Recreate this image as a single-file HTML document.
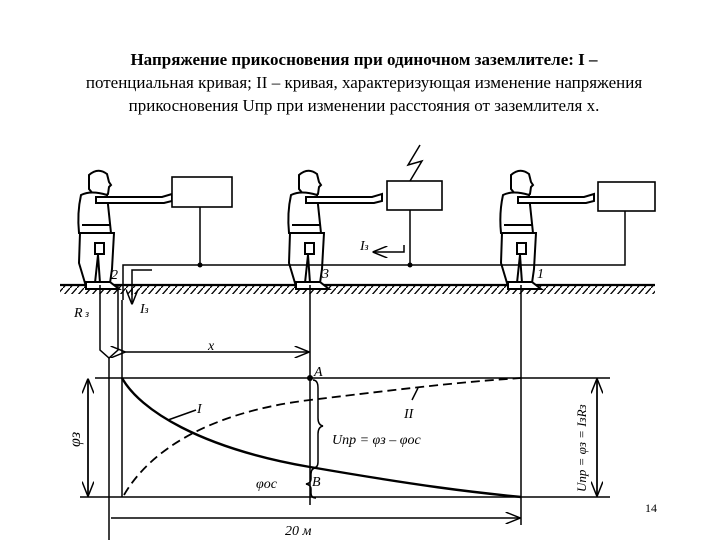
<!DOCTYPE html>
<html><head><meta charset="utf-8"><style>
html,body{margin:0;padding:0;background:#fff;}
.t{position:absolute;left:0;width:720px;text-align:center;font-family:"Liberation Serif",serif;font-size:17px;line-height:23px;color:#000;}
</style></head><body>
<div style="position:relative;width:720px;height:540px;overflow:hidden">
<div class="t" style="top:48px;left:4px"><b>Напряжение прикосновения при одиночном заземлителе: I –</b><br>потенциальная кривая; II – кривая, характеризующая изменение напряжения<br>прикосновения Uпр при изменении расстояния от заземлителя x.</div>
<svg width="720" height="540" style="position:absolute;left:0;top:0" font-family="Liberation Serif, serif" font-style="italic">
<defs>
<pattern id="h" width="7" height="8" patternUnits="userSpaceOnUse"><path d="M0 8 L7 0" stroke="#000" stroke-width="1.3"/></pattern>
<g id="p" fill="#fff" stroke="#000" stroke-width="2">
<path d="M-9 -110 q9 -8 18 -1 l2 8 l2 3 l-2 2 l-1 7 l-4 2 v4 h-10 v-5 l-5 -6 z"/>
<path d="M-17 -90 q10 -5 26 0 l4 38 h-32 q-2 -20 2 -38 z"/>
<path d="M-18 -52 h34 l-2 36 l-2 14 h-10 l-2 -28 l-3 28 h-10 l-6 -20 z"/>
<rect x="-3" y="-42" width="9" height="11"/>
<path d="M-2 -88 h66 l10 -3 v7 l-8 2 h-68 z"/>
<path d="M-12 -3 h24 l9 7 h-33 z"/>
<line x1="-16" y1="-60" x2="12" y2="-60"/>
</g>
<marker id="a" markerWidth="10" markerHeight="8" refX="9" refY="4" orient="auto"><path d="M0 0 L10 4 L0 8" fill="none" stroke="#000"/></marker>
</defs>
<rect x="60" y="285" width="595" height="9" fill="url(#h)"/>
<line x1="60" y1="285" x2="655" y2="285" stroke="#000" stroke-width="2.2"/>
<use href="#p" x="98" y="285"/>
<use href="#p" x="308" y="285"/>
<use href="#p" x="520" y="285"/>
<g fill="#fff" stroke="#000" stroke-width="1.6">
<rect x="172" y="177" width="60" height="30"/>
<rect x="387" y="181" width="55" height="29"/>
<rect x="598" y="182" width="57" height="29"/>
</g>
<g stroke="#000" stroke-width="1.5" fill="none">
<path d="M123 300 V265 H625 V211"/>
<line x1="200" y1="207" x2="200" y2="265"/>
<line x1="410" y1="210" x2="410" y2="265"/>
<path d="M420 145 l-12 20 l14 -4 l-12 20"/>
<path d="M100 285 V350 l9 8 l9 -8 V285"/>
<path d="M132 295 V270 h20"/>
<path d="M132 288 V303" marker-end="url(#a)"/>
<path d="M404 245 v7 h-30" marker-end="url(#a)"/>
<line x1="109" y1="358" x2="109" y2="540"/>
<line x1="122" y1="300" x2="122" y2="497"/>
<line x1="310" y1="285" x2="310" y2="505"/>
<line x1="521" y1="285" x2="521" y2="525"/>
<line x1="95" y1="378" x2="610" y2="378"/>
<line x1="80" y1="497" x2="610" y2="497"/>
<line x1="124" y1="352" x2="308" y2="352" marker-end="url(#a)" marker-start="url(#a)"/>
<line x1="111" y1="518" x2="519" y2="518" marker-end="url(#a)"/>
<line x1="88" y1="380" x2="88" y2="495" marker-end="url(#a)"/>
<line x1="88" y1="495" x2="88" y2="380" marker-end="url(#a)"/>
<line x1="597" y1="380" x2="597" y2="495" marker-end="url(#a)"/>
<line x1="597" y1="495" x2="597" y2="380" marker-end="url(#a)"/>
<path d="M122 378 C140 410 200 448 310 467 S470 492 521 497" stroke-width="2.4"/>
<path d="M124 495 C150 450 210 412 310 400 S460 382 521 378" stroke-dasharray="9 5" stroke-width="1.8"/>
<path d="M313 380 q5 0 5 8 v30 q0 7 5 8 q-5 1 -5 8 v28 q0 6 -5 6"/>
<path d="M316 468 q-5 0 -5 6 v5 q0 4 -5 5 q5 1 5 5 v4 q0 5 5 5"/>
<line x1="168" y1="420" x2="196" y2="410"/>
<line x1="412" y1="400" x2="418" y2="388"/>
</g>
<circle cx="310" cy="378" r="3"/>
<circle cx="200" cy="265" r="2.5"/>
<circle cx="410" cy="265" r="2.5"/>
<g font-size="14">
<text x="111" y="279">2</text><text x="322" y="278">3</text><text x="537" y="278">1</text>
<text x="140" y="313">I<tspan font-size="10">з</tspan></text>
<text x="74" y="317">R<tspan font-size="10"> з</tspan></text>
<text x="360" y="250">I<tspan font-size="10">з</tspan></text>
<text x="208" y="350">x</text>
<text x="314" y="376">A</text>
<text x="312" y="486">B</text>
<text x="197" y="413">I</text>
<text x="404" y="418">II</text>
<text x="332" y="444">Uпр = φз – φос</text>
<text x="256" y="488">φос</text>
<text x="285" y="535">20 м</text>
<text transform="translate(80,447) rotate(-90)" font-size="16">φз</text>
<text transform="translate(586,492) rotate(-90)" font-size="13">Uпр = φз = IзRз</text>
</g>
<text x="645" y="512" font-size="12" font-style="normal">14</text>
</svg>
</div>
</body></html>
